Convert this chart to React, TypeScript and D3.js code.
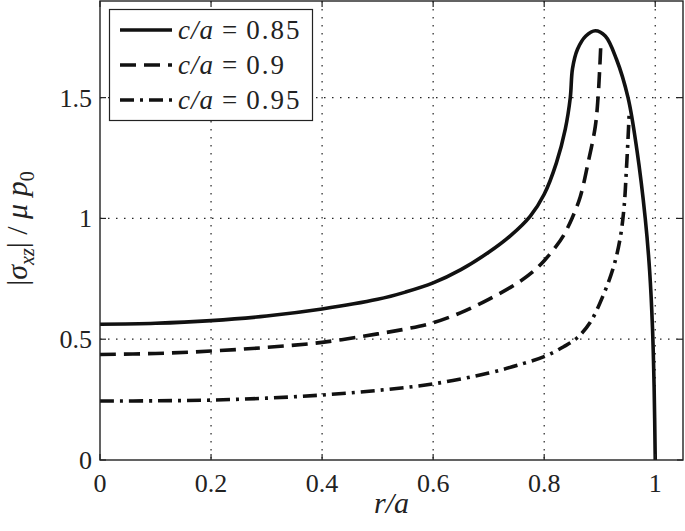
import React from "react";
import * as d3 from "d3";

const W = 685;
const H = 531;

const xTicks = [0, 0.2, 0.4, 0.6, 0.8, 1];
const yTicks = [0, 0.5, 1, 1.5];
const xTickLabels = ["0", "0.2", "0.4", "0.6", "0.8", "1"];
const yTickLabels = ["0", "0.5", "1", "1.5"];

// c/a = 0.85 (solid)
const solidX = [0, 0.1, 0.2, 0.3, 0.4, 0.5, 0.55, 0.6, 0.65, 0.7, 0.74, 0.775, 0.8, 0.822, 0.838, 0.847, 0.851, 0.86, 0.875, 0.892, 0.91, 0.93, 0.951, 0.967, 0.982, 0.99, 0.995, 0.998, 1.0];
const solidY = [0.562, 0.566, 0.577, 0.596, 0.625, 0.665, 0.695, 0.733, 0.788, 0.86, 0.93, 1.01, 1.1, 1.23, 1.37, 1.5, 1.62, 1.7, 1.755, 1.777, 1.755, 1.66, 1.5, 1.283, 1.0, 0.78, 0.55, 0.3, 0];

// c/a = 0.9 (dashed)
const dashX = [0, 0.1, 0.2, 0.3, 0.4, 0.5, 0.55, 0.6, 0.65, 0.7, 0.75, 0.78, 0.8, 0.82, 0.835, 0.85, 0.865, 0.879, 0.892, 0.897, 0.9, 0.902];
const dashY = [0.437, 0.441, 0.451, 0.466, 0.487, 0.522, 0.542, 0.568, 0.61, 0.665, 0.73, 0.78, 0.825, 0.88, 0.93, 1.0, 1.09, 1.23, 1.38, 1.5, 1.62, 1.72];

// c/a = 0.95 (dash-dot)
const dotX = [0, 0.1, 0.2, 0.3, 0.4, 0.5, 0.6, 0.7, 0.763, 0.802, 0.835, 0.859, 0.883, 0.906, 0.925, 0.937, 0.944, 0.948, 0.951, 0.953];
const dotY = [0.244, 0.245, 0.248, 0.256, 0.269, 0.288, 0.315, 0.36, 0.4, 0.43, 0.469, 0.505, 0.57, 0.68, 0.8, 0.92, 1.05, 1.2, 1.33, 1.43];

const seriesLabels = ["0.85", "0.9", "0.95"];
const dashes = ["none", "16,8", "14,6,3,6"];

const M = { left: 100, right: 683, top: 1, bottom: 460 };

export default function App() {
  const x = d3.scaleLinear().domain([0, 1.05]).range([M.left, M.right]);
  const y = d3.scaleLinear().domain([0, 1.9]).range([M.bottom, M.top]);
  const line = d3
    .line<[number, number]>()
    .x((d) => x(d[0]))
    .y((d) => y(d[1]))
    .curve(d3.curveCatmullRom.alpha(0.5));

  const series = [
    solidX.map((v, i) => [v, solidY[i]] as [number, number]),
    dashX.map((v, i) => [v, dashY[i]] as [number, number]),
    dotX.map((v, i) => [v, dotY[i]] as [number, number]),
  ];

  const font = "'Times New Roman', Times, 'Liberation Serif', serif";
  const tickLen = 6;

  return (
    <svg width={W} height={H} style={{ position: "absolute", left: 0, top: 0 }} fontFamily={font}>
      <rect x={0} y={0} width={W} height={H} fill="#fff" />
      {/* grid */}
      {xTicks.map((t) =>
        t > 0 ? (
          <line key={"gx" + t} x1={x(t)} x2={x(t)} y1={M.top} y2={M.bottom} stroke="#222" strokeWidth={1.2} strokeDasharray="1.5,6.5" />
        ) : null
      )}
      {yTicks.map((t) =>
        t > 0 ? (
          <line key={"gy" + t} x1={M.left} x2={M.right} y1={y(t)} y2={y(t)} stroke="#222" strokeWidth={1.2} strokeDasharray="1.5,6.5" />
        ) : null
      )}
      {/* curves */}
      {series.map((s, i) => (
        <path key={"s" + i} d={line(s) || ""} fill="none" stroke="#111" strokeWidth={3.6} strokeDasharray={dashes[i]} strokeLinejoin="round" />
      ))}
      {/* box */}
      <rect x={M.left} y={M.top} width={M.right - M.left} height={M.bottom - M.top} fill="none" stroke="#222" strokeWidth={1.4} />
      {/* ticks */}
      {xTicks.map((t) => (
        <g key={"tx" + t}>
          <line x1={x(t)} x2={x(t)} y1={M.bottom} y2={M.bottom - tickLen} stroke="#222" strokeWidth={1.2} />
          <line x1={x(t)} x2={x(t)} y1={M.top} y2={M.top + tickLen} stroke="#222" strokeWidth={1.2} />
        </g>
      ))}
      {yTicks.map((t) => (
        <g key={"ty" + t}>
          <line x1={M.left} x2={M.left + tickLen} y1={y(t)} y2={y(t)} stroke="#222" strokeWidth={1.2} />
          <line x1={M.right} x2={M.right - tickLen} y1={y(t)} y2={y(t)} stroke="#222" strokeWidth={1.2} />
        </g>
      ))}
      {/* tick labels */}
      {xTicks.map((t, i) => (
        <text key={"lx" + t} x={x(t)} y={492} fontSize={26} textAnchor="middle" fill="#222">
          {xTickLabels[i]}
        </text>
      ))}
      {yTicks.map((t, i) => (
        <text key={"ly" + t} x={92} y={y(t) + 9} fontSize={26} textAnchor="end" fill="#222">
          {yTickLabels[i]}
        </text>
      ))}
      {/* axis labels */}
      <text x={(M.left + M.right) / 2} y={513} fontSize={30} fontStyle="italic" textAnchor="middle" fill="#222">
        r/a
      </text>
      <text transform={`translate(27,${(M.top + M.bottom) / 2 - 2}) rotate(-90)`} fontSize={30} textAnchor="middle" fill="#222">
        <tspan>|</tspan>
        <tspan fontStyle="italic">σ</tspan>
        <tspan fontSize={20} fontStyle="italic" dy={7}>xz</tspan>
        <tspan dy={-7}>{"| / "}</tspan>
        <tspan fontStyle="italic">μ p</tspan>
        <tspan fontSize={20} dy={7}>0</tspan>
      </text>
      {/* legend */}
      <rect x={109.5} y={9.5} width={203} height={111} fill="#fff" stroke="#222" strokeWidth={1.2} />
      {seriesLabels.map((lab, i) => {
        const cy = 30 + i * 35;
        return (
          <g key={"lg" + i}>
            <line x1={120} x2={172} y1={cy} y2={cy} stroke="#111" strokeWidth={3.6} strokeDasharray={dashes[i]} />
            <text x={178} y={cy + 9} fontSize={27} fill="#222">
              <tspan fontStyle="italic" letterSpacing={1}>c/a</tspan>
              <tspan dx={8}>=</tspan>
              <tspan dx={9} letterSpacing={2}>{lab}</tspan>
            </text>
          </g>
        );
      })}
    </svg>
  );
}
